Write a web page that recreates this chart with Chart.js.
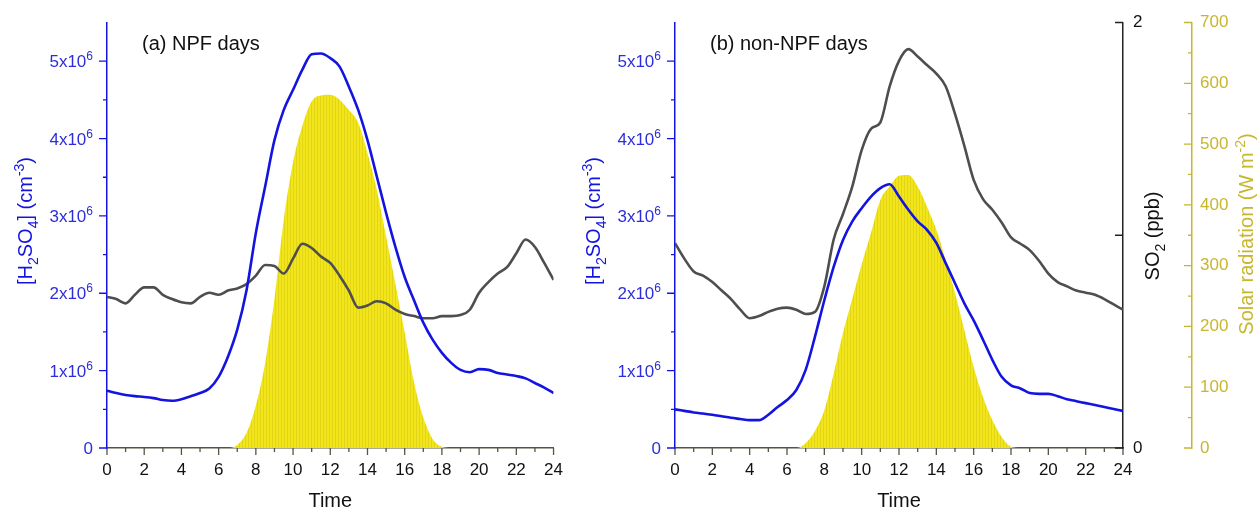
<!DOCTYPE html>
<html>
<head>
<meta charset="utf-8">
<script src="https://cdn.jsdelivr.net/npm/chart.js@4.4.1/dist/chart.umd.min.js"></script>
<style>
  body { margin: 0; background: #fff; width: 1260px; height: 510px; overflow: hidden; position: relative; }
  canvas { position: absolute; top: 0; }
</style>
</head>
<body>
<canvas id="chartA" width="575" height="510" style="left:0px"></canvas>
<canvas id="chartB" width="685" height="510" style="left:575px"></canvas>
<script>
// time of day (h), half-hour steps
const hours = [0,0.5,1,1.5,2,2.5,3,3.5,4,4.5,5,5.5,6,6.5,7,7.5,8,8.5,9,9.5,10,10.5,11,11.5,12,
  12.5,13,13.5,14,14.5,15,15.5,16,16.5,17,17.5,18,18.5,19,19.5,20,20.5,21,21.5,22,22.5,23,23.5,24];
const h2so4Ticks = [0,1,2,3,4,5]; // x10^6

// (a) NPF days
const h2so4NPF = [0.74,0.71,0.685,0.67,0.66,0.645,0.62,0.61,0.63,0.67,0.71,0.77,0.92,1.18,1.53,2.04,2.78,3.38,3.98,4.37,4.63,4.89,5.09,5.10,5.04,
  4.93,4.67,4.37,3.98,3.51,3.04,2.6,2.21,1.91,1.62,1.40,1.23,1.10,1.01,0.98,1.02,1.01,0.97,0.95,0.93,0.90,0.84,0.78,0.71]; // x10^6 cm-3
const so2NPF = [0.71,0.70,0.68,0.72,0.755,0.755,0.72,0.70,0.685,0.68,0.71,0.73,0.72,0.74,0.75,0.77,0.81,0.86,0.855,0.82,0.89,0.96,0.94,0.90,0.87,
  0.81,0.74,0.66,0.67,0.69,0.68,0.65,0.63,0.62,0.61,0.61,0.62,0.62,0.625,0.65,0.73,0.78,0.82,0.85,0.915,0.98,0.945,0.87,0.79]; // ppb
const solarNPF = [0,0,0,0,0,0,0,0,0,0,0,0,0,0,5,25,70,140,245,375,470,530,570,580,581,
  573,556,535,485,425,348,270,190,108,50,15,2,0,0,0,0,0,0,0,0,0,0,0,0]; // W m-2

// (b) non-NPF days
const h2so4Non = [0.50,0.48,0.46,0.445,0.43,0.41,0.39,0.375,0.36,0.36,0.43,0.53,0.62,0.75,1.01,1.44,1.91,2.34,2.69,2.93,3.10,3.25,3.36,3.41,3.25,
  3.08,2.93,2.82,2.65,2.39,2.13,1.87,1.65,1.40,1.14,0.92,0.81,0.77,0.71,0.70,0.70,0.67,0.63,0.605,0.58,0.555,0.53,0.505,0.48];
const so2Non = [0.963,0.89,0.83,0.81,0.78,0.74,0.70,0.65,0.61,0.62,0.64,0.655,0.66,0.65,0.63,0.64,0.76,0.98,1.10,1.23,1.40,1.50,1.53,1.70,1.82,
  1.875,1.84,1.80,1.76,1.70,1.57,1.42,1.26,1.17,1.12,1.06,0.99,0.96,0.93,0.88,0.82,0.78,0.76,0.74,0.73,0.72,0.70,0.675,0.65];
const solarNon = [0,0,0,0,0,0,0,0,0,0,0,0,0,0,8,28,62,122,189,246,302,354,408,430,448,
  449,430,397,359,309,255,194,133,84,46,18,2,0,0,0,0,0,0,0,0,0,0,0,0];

const FF = '"Liberation Sans", Arial, sans-serif';
const BLUE = 'rgb(20,20,225)';
const BLUE_TXT = 'rgb(45,45,220)';
const GRAY = 'rgb(78,78,78)';
const OLIVE = 'rgb(200,182,45)';
const AXIS = 'rgb(85,85,70)';

// striped yellow fill like the original columns
function yellowPattern() {
  const c = document.createElement('canvas');
  c.width = 3; c.height = 4;
  const g = c.getContext('2d');
  g.fillStyle = 'rgb(242,229,25)';
  g.fillRect(0, 0, 3, 4);
  g.fillStyle = 'rgb(226,212,22)';
  g.fillRect(2, 0, 1, 4);
  return g.createPattern(c, 'repeat');
}

function pts(arr, k) {
  return hours.map((h, i) => ({ x: h, y: arr[i] * (k || 1) }));
}

// text with sub/superscripts; align 'center' or 'right'
function richText(ctx, parts, x, y, rot, size, color, align) {
  ctx.save();
  ctx.translate(x, y);
  ctx.rotate(rot);
  ctx.fillStyle = color;
  ctx.textBaseline = 'alphabetic';
  ctx.textAlign = 'left';
  const small = Math.round(size * 0.7);
  let w = 0;
  parts.forEach(p => {
    ctx.font = (p.s ? small : size) + 'px ' + FF;
    w += ctx.measureText(p.t).width;
  });
  let cx = align === 'right' ? -w : -w / 2;
  parts.forEach(p => {
    ctx.font = (p.s ? small : size) + 'px ' + FF;
    const dy = p.s === 'sub' ? size * 0.28 : p.s === 'sup' ? -size * 0.42 : 0;
    ctx.fillText(p.t, cx, size * 0.36 + dy);
    cx += ctx.measureText(p.t).width;
  });
  ctx.restore();
}

const h2so4Title = [{t:'[H'},{t:'2',s:'sub'},{t:'SO'},{t:'4',s:'sub'},{t:'] (cm'},{t:'-3',s:'sup'},{t:')'}];

// tick marks (major + minor) and the blue x10^6 labels, placed on the library scales
function tickPlugin(specs) {
  return {
    id: 'tickMarks',
    afterDatasetsDraw(chart) {
      const ctx = chart.ctx;
      specs.forEach(s => {
        const sc = chart.scales[s.id];
        ctx.save();
        ctx.strokeStyle = s.color;
        ctx.lineWidth = 1.3;
        ctx.beginPath();
        for (let v = s.from; v <= s.to + 1e-9; v += s.minor) {
          const isMajor = Math.abs(v / s.major - Math.round(v / s.major)) < 1e-6;
          const len = isMajor ? s.majLen : s.minLen;
          const p = sc.getPixelForValue(v);
          if (sc.isHorizontal()) {
            ctx.moveTo(p, sc.top); ctx.lineTo(p, sc.top + len);
          } else {
            const x0 = s.side === 'right' ? sc.right : sc.left;
            ctx.moveTo(x0, p); ctx.lineTo(x0 - len, p);
          }
        }
        ctx.stroke();
        ctx.restore();
      });
      const y = chart.scales.y;
      h2so4Ticks.forEach(v => {
        const parts = v === 0 ? [{t:'0'}] : [{t: v + 'x10'}, {t:'6', s:'sup'}];
        richText(ctx, parts, y.right - 14, y.getPixelForValue(v * 1e6), 0, 17, BLUE_TXT, 'right');
      });
    }
  };
}

function labelPlugin(draw) {
  return { id: 'labels', afterDraw(chart) { draw(chart.ctx); } };
}

function baseScales(yWidth) {
  return {
    x: {
      type: 'linear', position: 'bottom', min: 0, max: 24,
      grid: { display: false, drawTicks: false },
      border: { color: AXIS, width: 1.5 },
      ticks: { stepSize: 2, padding: 12, color: '#111', font: { family: FF, size: 17 } },
      title: { display: true, text: 'Time', color: '#111', font: { family: FF, size: 20 }, padding: { top: 0, bottom: -3 } },
      afterFit: s => { s.height = 62; }
    },
    y: {
      position: 'left', min: 0, max: 5.5e6, bounds: 'data',
      grid: { display: false, drawTicks: false },
      border: { color: BLUE, width: 1.5 },
      ticks: { display: false, stepSize: 1e6, includeBounds: false },
      afterFit: s => { s.width = yWidth; }
    }
  };
}

function datasets(h2, so2, sun) {
  return [
    { data: pts(h2, 1e6), yAxisID: 'y', borderColor: BLUE, borderWidth: 2.6, pointRadius: 0, cubicInterpolationMode: 'monotone', order: 1 },
    { data: pts(so2), yAxisID: 'so2', borderColor: GRAY, borderWidth: 2.6, pointRadius: 0, cubicInterpolationMode: 'monotone', order: 2 },
    { data: pts(sun), yAxisID: 'sun', borderWidth: 0, borderColor: 'rgba(0,0,0,0)', backgroundColor: yellowPattern(),
      fill: 'origin', pointRadius: 0, cubicInterpolationMode: 'monotone', order: 3 }
  ];
}

const common = {
  responsive: false,
  animation: false,
  events: [],
  plugins: { legend: { display: false }, tooltip: { enabled: false } }
};

// (a) NPF days
const scalesA = baseScales(107);
scalesA.so2 = { display: false, min: 0, max: 2 };
scalesA.sun = { display: false, min: 0, max: 700 };

new Chart(document.getElementById('chartA'), {
  type: 'line',
  data: { datasets: datasets(h2so4NPF, so2NPF, solarNPF) },
  options: Object.assign({}, common, {
    layout: { padding: { left: 0, right: 20, top: 22.5, bottom: 0 } },
    scales: scalesA
  }),
  plugins: [
    tickPlugin([
      { id: 'x', from: 0, to: 24, major: 2, minor: 1, majLen: 7, minLen: 4, color: AXIS },
      { id: 'y', from: 0, to: 5e6, major: 1e6, minor: 0.5e6, majLen: 8, minLen: 4, color: BLUE, side: 'right' }
    ]),
    labelPlugin(ctx => {
      richText(ctx, h2so4Title, 25, 221, -Math.PI / 2, 20, BLUE);
      ctx.save();
      ctx.font = '20px ' + FF; ctx.fillStyle = '#111'; ctx.textBaseline = 'alphabetic';
      ctx.fillText('(a) NPF days', 142, 50);
      ctx.restore();
    })
  ]
});

// (b) non-NPF days
const scalesB = baseScales(100);
scalesB.so2 = {
  position: 'right', min: 0, max: 2,
  grid: { display: false, drawTicks: false },
  border: { color: '#222', width: 1.5 },
  ticks: { stepSize: 1, padding: 10, color: '#111', font: { family: FF, size: 17 }, callback: v => v === 1 ? '' : String(v) },
  afterFit: s => { s.width = 69; }
};
scalesB.sun = {
  position: 'right', min: 0, max: 700,
  grid: { display: false, drawTicks: false },
  border: { color: OLIVE, width: 1.5 },
  ticks: { stepSize: 100, padding: 8, color: OLIVE, font: { family: FF, size: 17 } },
  afterFit: s => { s.width = 68; }
};

new Chart(document.getElementById('chartB'), {
  type: 'line',
  data: { datasets: datasets(h2so4Non, so2Non, solarNon) },
  options: Object.assign({}, common, {
    layout: { padding: { left: 0, right: 0, top: 22.5, bottom: 0 } },
    scales: scalesB
  }),
  plugins: [
    tickPlugin([
      { id: 'x', from: 0, to: 24, major: 2, minor: 1, majLen: 7, minLen: 4, color: AXIS },
      { id: 'y', from: 0, to: 5e6, major: 1e6, minor: 0.5e6, majLen: 8, minLen: 4, color: BLUE, side: 'right' },
      { id: 'so2', from: 0, to: 2, major: 1, minor: 1, majLen: 8, minLen: 8, color: '#222', side: 'left' },
      { id: 'sun', from: 0, to: 700, major: 100, minor: 50, majLen: 8, minLen: 4, color: OLIVE, side: 'left' }
    ]),
    labelPlugin(ctx => {
      richText(ctx, h2so4Title, 593 - 575, 221, -Math.PI / 2, 20, BLUE);
      richText(ctx, [{t:'SO'},{t:'2',s:'sub'},{t:' (ppb)'}], 1152 - 575, 236, -Math.PI / 2, 20, '#111');
      richText(ctx, [{t:'Solar radiation (W m'},{t:'-2',s:'sup'},{t:')'}], 1246 - 575, 234, -Math.PI / 2, 20, OLIVE);
      ctx.save();
      ctx.font = '20px ' + FF; ctx.fillStyle = '#111'; ctx.textBaseline = 'alphabetic';
      ctx.fillText('(b) non-NPF days', 710 - 575, 50);
      ctx.restore();
    })
  ]
});
</script>
</body>
</html>
